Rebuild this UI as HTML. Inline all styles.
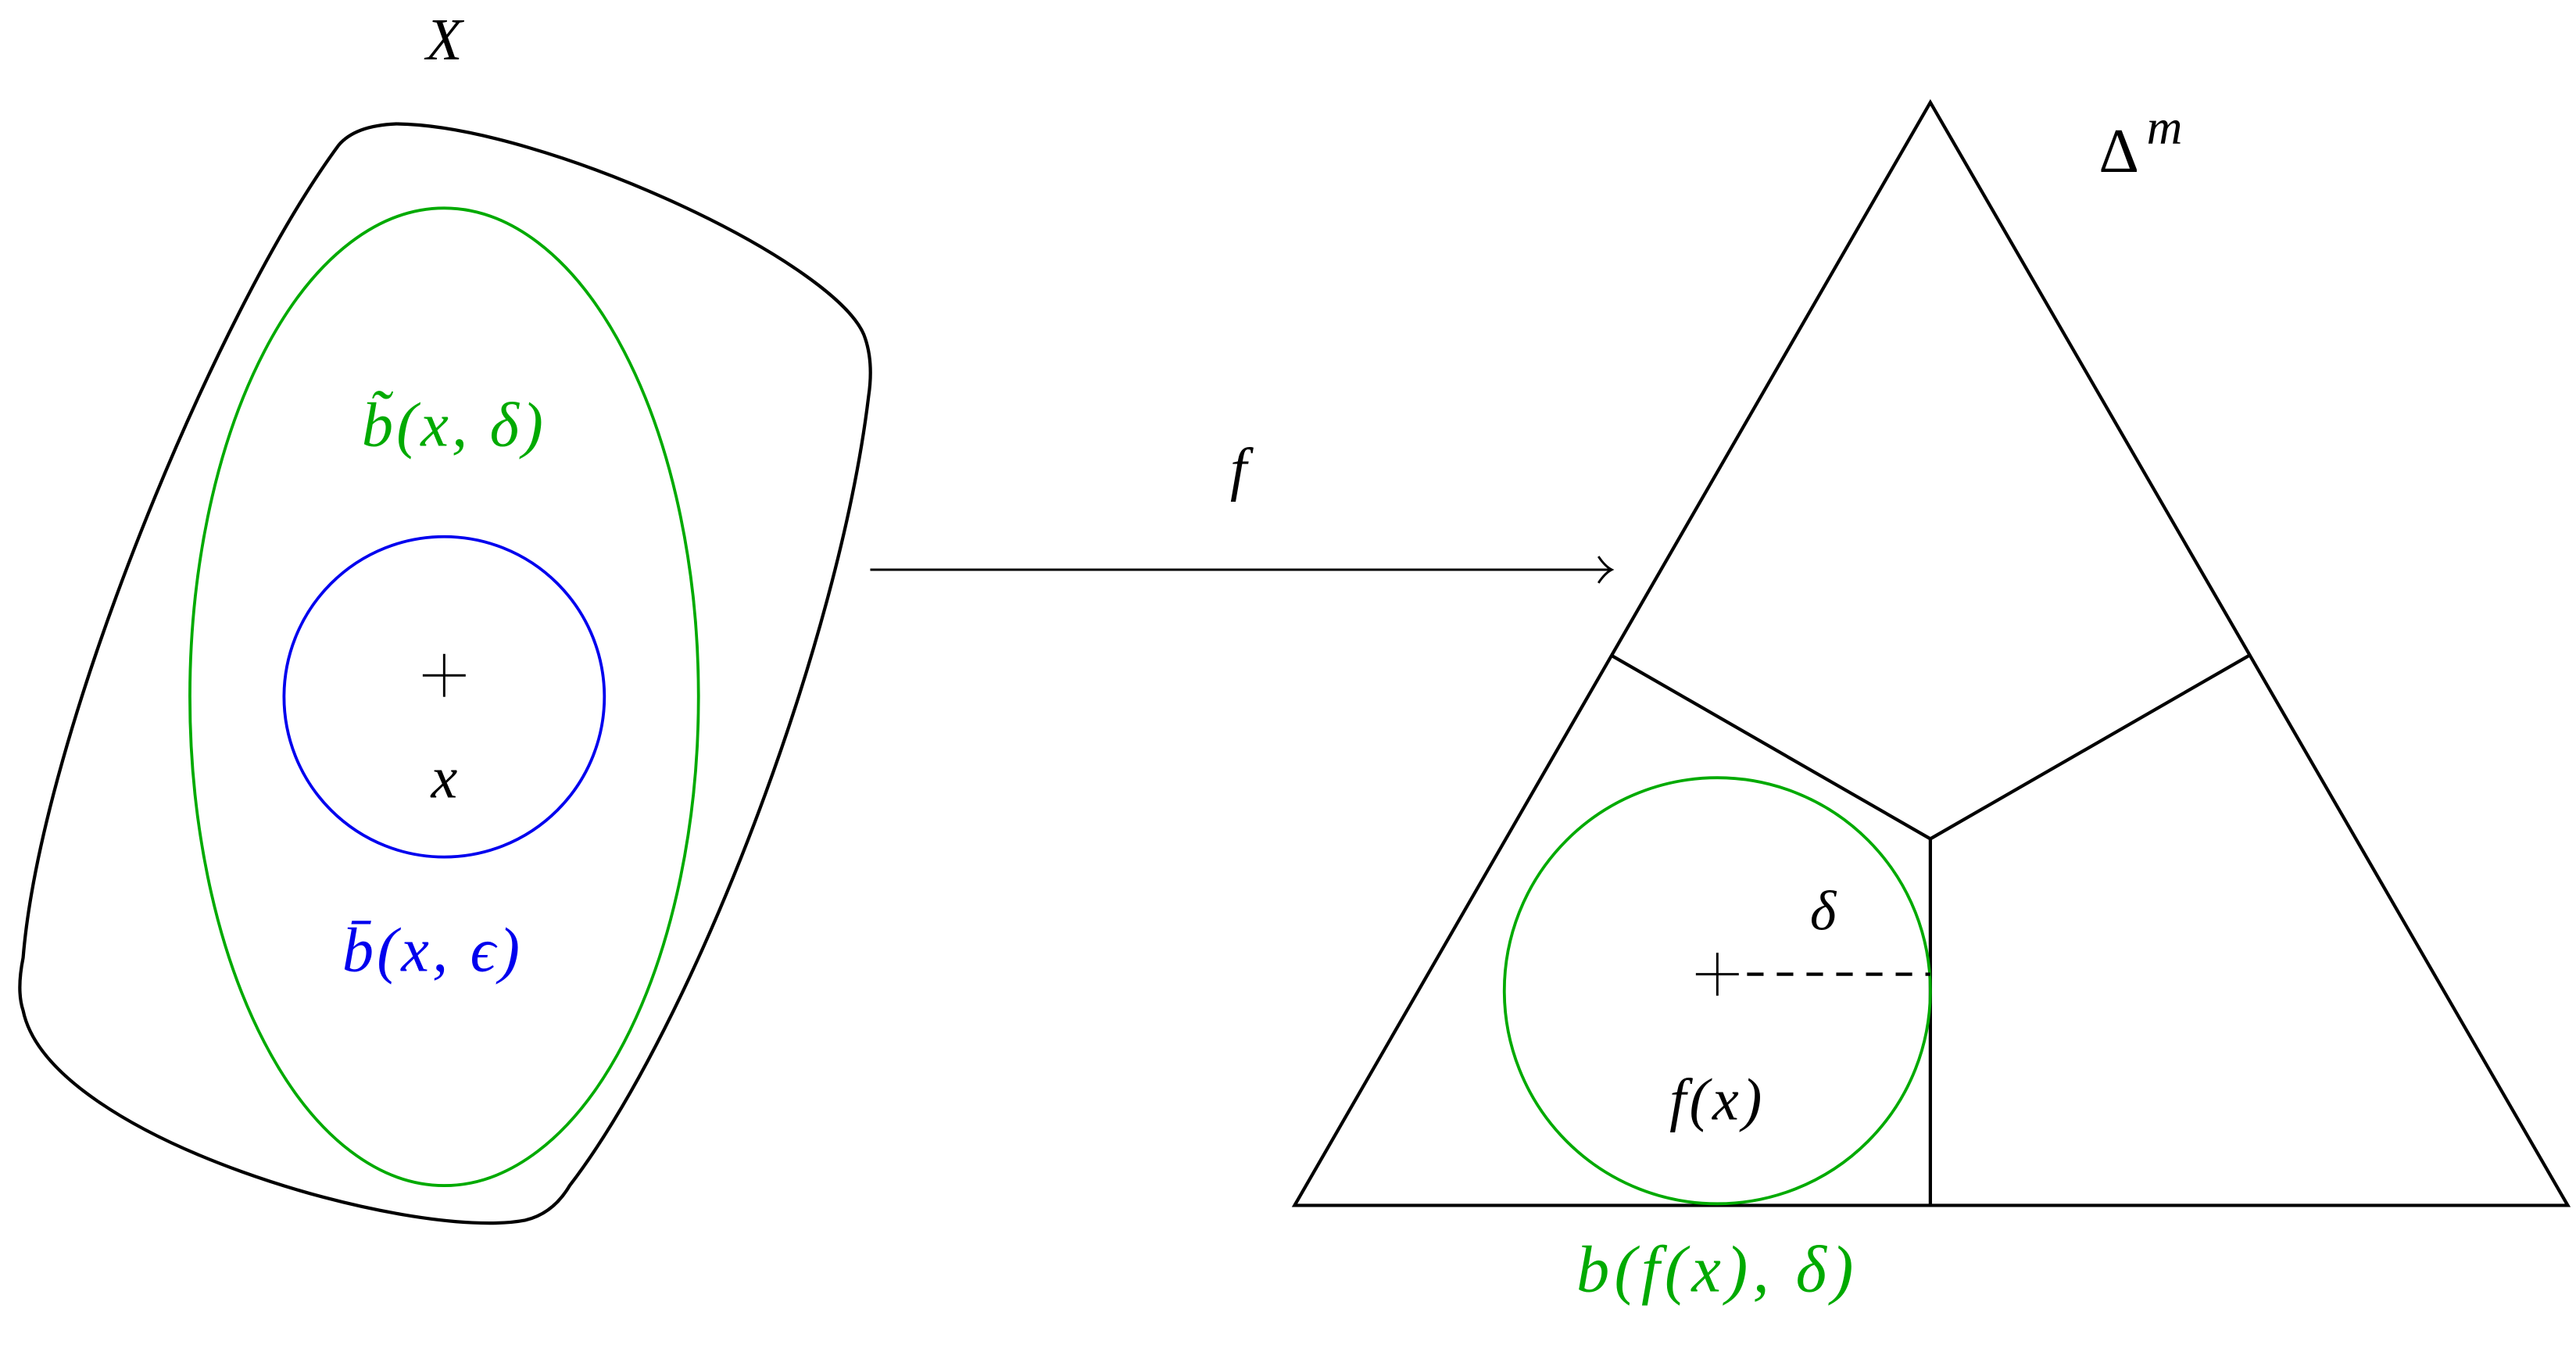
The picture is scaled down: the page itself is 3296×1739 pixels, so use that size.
<!DOCTYPE html>
<html><head><meta charset="utf-8"><style>
html,body{margin:0;padding:0;background:#fff;}
svg{display:block;}
text{font-family:"Liberation Serif","DejaVu Serif",serif;font-style:italic;}
</style></head><body>
<svg width="3296" height="1739" viewBox="0 0 1560 823" xmlns="http://www.w3.org/2000/svg">
<rect x="0" y="0" width="1560" height="823" fill="#fff"/>
<path d="M 205,88 Q 215,76 240,75 C 330,76 510,160 524,205 Q 529,220 526,240 C 508,390 420,620 345,718 Q 335,735 318,739 C 250,752 30,690 14,612 Q 10,600 14,580 C 25,445 130,190 205,88 Z" fill="none" stroke="#000" stroke-width="2"/>
<ellipse cx="269" cy="422" rx="154" ry="296" fill="none" stroke="#00aa00" stroke-width="1.8"/>
<circle cx="269" cy="422" r="97" fill="none" stroke="#0000ee" stroke-width="1.8"/>
<line x1="256" y1="409" x2="282" y2="409" stroke="#000" stroke-width="1.4"/>
<line x1="269" y1="396" x2="269" y2="422" stroke="#000" stroke-width="1.4"/>
<text x="269" y="36" font-size="36" text-anchor="middle">X</text>
<text x="275" y="270" font-size="38" text-anchor="middle" fill="#00aa00" letter-spacing="2">b̃(x, δ)</text>
<text x="269" y="483" font-size="36" text-anchor="middle">x</text>
<text x="262" y="588" font-size="38" text-anchor="middle" fill="#0000ee" letter-spacing="2">b̄(x, ϵ)</text>
<text x="750" y="296" font-size="36" text-anchor="middle">f</text>
<line x1="527" y1="345" x2="976" y2="345" stroke="#000" stroke-width="1.4"/>
<path d="M 968,337 Q 972,343 976,345 Q 972,347 968,353" fill="none" stroke="#000" stroke-width="1.4"/>
<polygon points="1169,62 784,730 1555,730" fill="none" stroke="#000" stroke-width="2"/>
<polyline points="976,397 1169,508 1362,397" fill="none" stroke="#000" stroke-width="2"/>
<line x1="1169" y1="508" x2="1169" y2="730" stroke="#000" stroke-width="2"/>
<circle cx="1040" cy="600" r="129" fill="none" stroke="#00aa00" stroke-width="1.8"/>
<line x1="1027" y1="590" x2="1053" y2="590" stroke="#000" stroke-width="1.4"/>
<line x1="1040" y1="577" x2="1040" y2="603" stroke="#000" stroke-width="1.4"/>
<line x1="1058" y1="590" x2="1169" y2="590" stroke="#000" stroke-width="2" stroke-dasharray="10,8"/>
<text x="1104" y="563" font-size="34" text-anchor="middle">δ</text>
<text x="1040" y="678" font-size="36" text-anchor="middle" letter-spacing="2">f(x)</text>
<text x="1271" y="104" font-size="38" style="font-style:normal">Δ</text>
<text x="1300" y="87" font-size="30">m</text>
<text x="1040" y="782" font-size="40" text-anchor="middle" fill="#00aa00" letter-spacing="3">b(f(x), δ)</text>
</svg>
</body></html>
